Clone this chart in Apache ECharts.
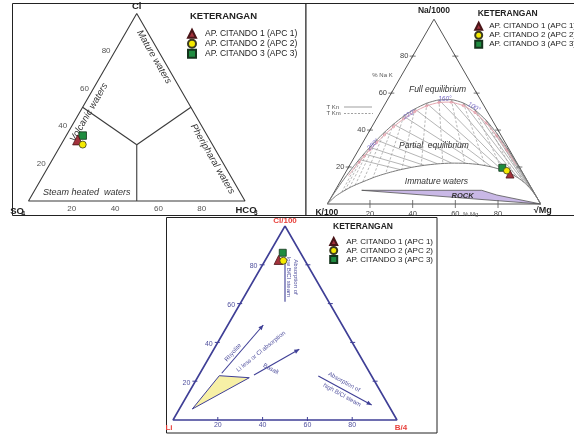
<!DOCTYPE html>
<html>
<head>
<meta charset="utf-8">
<title>Diagram ternary air panas Citando</title>
<script src="https://cdn.jsdelivr.net/npm/echarts@6.0.0/dist/echarts.min.js"></script>
<style>
  html, body { margin: 0; padding: 0; background: #fff; }
  #chart { width: 574px; height: 434px; }
</style>
</head>
<body>
<div id="chart"></div>
<script>
// ---------------- sample compositions (ternary percentages) ----------------
const sampleNames = ['AP. CITANDO 1 (APC 1)', 'AP. CITANDO 2 (APC 2)', 'AP. CITANDO 3 (APC 3)'];

// Cl - SO4 - HCO3  (top: Cl, right: HCO3, left: SO4)
const anionCl   = [32.6, 30.1, 34.9];
const anionHCO3 = [6.4, 10.0, 7.6];

// Na/1000 - K/100 - sqrt(Mg)  (top: Na, right: Mg, left: K)
const cationNa = [16.2, 18.0, 19.6];
const cationMg = [77.5, 75.1, 72.2];

// Cl/100 - Li - B/4  (top: Cl, right: B, left: Li)
const clbCl = [82.5, 82.1, 86.2];
const clbB  = [5.9, 8.2, 5.9];

const tickValues = [20, 40, 60, 80];

// Na-K-Mg full equilibrium line, by temperature (deg C): [Na, Mg] %
const eqTemps = [700, 500, 400, 380, 360, 340, 320, 300, 280, 260, 240, 220, 200, 180, 160, 140, 120, 100, 80, 60, 40, 20, 0];
const eqNa = [4.55, 9.98, 16.86, 18.93, 21.32, 24.05, 27.17, 30.69, 34.59, 38.80, 43.19, 47.50, 51.42, 54.51, 56.33, 56.46, 54.65, 50.86, 45.26, 38.28, 30.50, 22.67, 15.50];
const eqMg = [0.18, 0.64, 1.54, 1.88, 2.32, 2.89, 3.62, 4.56, 5.79, 7.38, 9.42, 12.02, 15.28, 19.31, 24.15, 29.86, 36.42, 43.78, 51.81, 60.28, 68.88, 77.10, 84.40];

// boundary of immature waters: [Na, Mg] %
const immNa = [4.47, 9.38, 14.56, 15.88, 17.23, 18.57, 19.84, 20.93, 21.72, 22.12, 22.00, 21.31, 20.05, 18.32, 16.22, 13.91, 11.55, 9.27, 7.17, 5.32, 3.78];
const immMg = [1.93, 6.69, 14.92, 17.72, 21.06, 25.02, 29.64, 34.92, 40.82, 47.20, 53.87, 60.54, 66.95, 72.88, 78.16, 82.72, 86.57, 89.76, 92.37, 94.47, 96.15];

const isoTemps = [340, 320, 300, 280, 260, 240, 220, 200, 180, 160, 140, 120, 100, 80, 60, 40];
const tempLabelTemps = [280, 220, 160, 100];

// rock dissolution field: [Na, Mg] %
const rockField = [[7.41, 12.41], [7.41, 68.65], [4.87, 76.95], [0, 100]];

// Cl-SO4-HCO3 field boundaries: [Cl, HCO3] %
const anionFieldLines = [
  [[50, 0], [30, 35]],
  [[30, 35], [50, 50]],
  [[30, 35], [0, 50]]
];

// Cl-Li-B features: [Cl, B] %
const clbYellowField = [[22.84, 9.25], [21.8, 23.16], [5.67, 5.78]];
const clbArrows = [
  { from: [24.1, 9.7],   to: [48.97, 15.83], head: true },
  { from: [23.2, 24.56], to: [36.45, 38.16], head: true },
  { from: [22.68, 53.53], to: [7.74, 84.83], head: true },
  { from: [82.48, 8.76], to: [60.98, 19.51], head: false }
];

// ---------------- helpers ----------------
const H = Math.sqrt(3) / 2;
const tern = (top, right) => [right + top / 2, top * H];
const FF = '"Liberation Sans", Arial, Helvetica, sans-serif';
const font = (size, style) => (style ? style + ' ' : '') + size + 'px ' + FF;

const series = [];
const base = (gi) => ({ xAxisIndex: gi, yAxisIndex: gi, silent: true, animation: false, clip: false });

function addLine(gi, pts, lineStyle, extra) {
  series.push(Object.assign(base(gi), {
    type: 'line', data: pts, symbol: 'none', showSymbol: false,
    lineStyle: lineStyle, z: 3, emphasis: { disabled: true }
  }, extra || {}));
}

function addTexts(gi, items, z) {
  series.push(Object.assign(base(gi), {
    type: 'custom', z: z || 6,
    data: items.map((it, i) => { const c = tern(it.at[0], it.at[1]); return [c[0], c[1], i]; }),
    renderItem: (params, api) => {
      const it = items[api.value(2)];
      const p = api.coord([api.value(0), api.value(1)]);
      return {
        type: 'text', x: p[0] + (it.dx || 0), y: p[1] + (it.dy || 0),
        rotation: (it.rot || 0) * Math.PI / 180,
        style: { text: it.text, font: it.font, fill: it.color, align: it.align || 'center', verticalAlign: 'middle' }
      };
    }
  }));
}

function addTicks(gi, ticks, stroke, lineWidth) {
  series.push(Object.assign(base(gi), {
    type: 'custom', z: 4,
    data: ticks.map((t, i) => { const c = tern(t.at[0], t.at[1]); return [c[0], c[1], i]; }),
    renderItem: (params, api) => {
      const t = ticks[api.value(2)];
      const p = api.coord([api.value(0), api.value(1)]);
      return { type: 'line', shape: { x1: p[0] + t.x1, y1: p[1] + t.y1, x2: p[0] + t.x2, y2: p[1] + t.y2 },
               style: { stroke: stroke, lineWidth: lineWidth } };
    }
  }));
}

function addArrows(gi, arrows, color) {
  series.push(Object.assign(base(gi), {
    type: 'custom', z: 5,
    data: arrows.map((a, i) => { const s = tern(a.from[0], a.from[1]); const e = tern(a.to[0], a.to[1]); return [s[0], s[1], e[0], e[1], i]; }),
    renderItem: (params, api) => {
      const a = arrows[api.value(4)];
      const s = api.coord([api.value(0), api.value(1)]);
      const e = api.coord([api.value(2), api.value(3)]);
      const children = [{ type: 'line', shape: { x1: s[0], y1: s[1], x2: e[0], y2: e[1] }, style: { stroke: color, lineWidth: 1.1 } }];
      if (a.head) {
        const dx = e[0] - s[0], dy = e[1] - s[1], L = Math.hypot(dx, dy);
        const ux = dx / L, uy = dy / L, hl = 5, hw = 2.2;
        children.push({ type: 'polygon', shape: { points: [
          [e[0], e[1]],
          [e[0] - ux * hl - uy * hw, e[1] - uy * hl + ux * hw],
          [e[0] - ux * hl + uy * hw, e[1] - uy * hl - ux * hw]
        ] }, style: { fill: color } });
      }
      return { type: 'group', children: children };
    }
  }));
}

function addPolygon(gi, pts, style, z) {
  const c0 = tern(pts[0][0], pts[0][1]);
  series.push(Object.assign(base(gi), {
    type: 'custom', z: z || 3,
    data: [[c0[0], c0[1]]],
    renderItem: (params, api) => ({
      type: 'polygon',
      shape: { points: pts.map(p => api.coord(tern(p[0], p[1]))) },
      style: style
    })
  }));
}

function segHit(p, q, a, b) {
  const rx = q[0] - p[0], ry = q[1] - p[1], sx = b[0] - a[0], sy = b[1] - a[1];
  const den = rx * sy - ry * sx;
  if (Math.abs(den) < 1e-12) return null;
  const apx = a[0] - p[0], apy = a[1] - p[1];
  const t = (apx * sy - apy * sx) / den;
  const u = (apx * ry - apy * rx) / den;
  return (t > 1e-6 && t <= 1 + 1e-9 && u >= -1e-9 && u <= 1 + 1e-9) ? t : null;
}
function clipToCurve(p, q, curve) {
  let best = null;
  for (let i = 0; i < curve.length - 1; i++) {
    const t = segHit(p, q, curve[i], curve[i + 1]);
    if (t !== null && (best === null || t < best)) best = t;
  }
  if (best === null) return q;
  return [p[0] + (q[0] - p[0]) * best, p[1] + (q[1] - p[1]) * best];
}

const triangle = [tern(100, 0), tern(0, 0), tern(0, 100), tern(100, 0)];

// ---------------- panel 1 : Cl - SO4 - HCO3 ----------------
addLine(0, triangle, { color: '#3a3a3a', width: 1.1 });
anionFieldLines.forEach(seg => addLine(0, seg.map(p => tern(p[0], p[1])), { color: '#3a3a3a', width: 1.1 }));

const p1c = '#333';
const p1Texts = [
  { at: [100, 0], dy: -7, text: 'Cl', font: font(9.5, 'bold'), color: '#222' },
  { at: [0, 0], dx: -11.5, dy: 10, text: 'SO', font: font(9.5, 'bold'), color: '#222' },
  { at: [0, 0], dx: -5.3, dy: 12.8, text: '4', font: font(6.5, 'bold'), color: '#222' },
  { at: [0, 100], dx: 1, dy: 9, text: 'HCO', font: font(9.5, 'bold'), color: '#222' },
  { at: [0, 100], dx: 10.8, dy: 11.8, text: '3', font: font(6.5, 'bold'), color: '#222' },
  { at: [76.8, 19.57], rot: -60, text: 'Mature waters', font: font(9.5, 'italic'), color: p1c },
  { at: [47.2, 4.34], rot: 60, text: 'Volcanic waters', font: font(9.5, 'italic'), color: p1c },
  { at: [22.4, 73.8], rot: -60, text: 'Pheripharal waters', font: font(9.5, 'italic'), color: p1c },
  { at: [4.54, 24.6], text: 'Steam heated  waters', font: font(9, 'italic'), color: p1c }
];
tickValues.forEach(v => {
  p1Texts.push({ at: [v, 0], dx: -9, dy: 0, text: String(v), font: font(8), color: '#555' });
  p1Texts.push({ at: [0, v], dy: 7.5, text: String(v), font: font(8), color: '#555' });
});
addTexts(0, p1Texts);

// ---------------- panel 2 : Na - K - Mg ----------------
const eqPts = [tern(0, 0)].concat(eqNa.map((na, i) => tern(na, eqMg[i])), [tern(0, 100)]);
const immPts = [tern(0, 0)].concat(immNa.map((na, i) => tern(na, immMg[i])), [tern(0, 100)]);
const apexNa = tern(100, 0), cornerMg = tern(0, 100);

addPolygon(1, rockField, { fill: '#c9b8e6', stroke: '#555', lineWidth: 0.8 }, 3);
addLine(1, triangle, { color: '#555', width: 1 }, { z: 4 });

isoTemps.forEach(T => {
  const i = eqTemps.indexOf(T);
  const P = tern(eqNa[i], eqMg[i]);
  const endSolid = clipToCurve(P, cornerMg, immPts);
  addLine(1, [P, endSolid], { color: '#9c9c9c', width: 0.75 });
  const far = [P[0] + 2 * (P[0] - apexNa[0]), P[1] + 2 * (P[1] - apexNa[1])];
  const endDash = clipToCurve(P, far, immPts);
  addLine(1, [P, endDash], { color: '#a0a0a0', width: 0.75, type: [2.5, 1.8] });
});
addLine(1, eqPts, { color: '#7a7a7a', width: 1 }, { smooth: 0.2, z: 4 });
addLine(1, immPts, { color: '#7a7a7a', width: 1 }, { smooth: 0.2, z: 4 });

// pink marker line just inside the full equilibrium line
const pinkIdx = eqTemps.map((t, i) => i).filter(i => eqTemps[i] <= 400 && eqTemps[i] >= 20);
series.push(Object.assign(base(1), {
  type: 'custom', z: 4,
  data: [[eqPts[1][0], eqPts[1][1]]],
  renderItem: (params, api) => {
    const pts = pinkIdx.map(i => { const p = api.coord(tern(eqNa[i], eqMg[i])); return [p[0], p[1] + 2.6]; });
    const marks = isoTemps.map(T => {
      const i = eqTemps.indexOf(T);
      const p = api.coord(tern(eqNa[i], eqMg[i]));
      return { type: 'circle', shape: { cx: p[0], cy: p[1] + 2.6, r: 1.1 }, style: { fill: null, stroke: '#e08a98', lineWidth: 0.7 } };
    });
    return { type: 'group', children: [
      { type: 'polyline', shape: { points: pts, smooth: 0.2 }, style: { fill: null, stroke: '#e6a8b2', lineWidth: 1 } }
    ].concat(marks) };
  }
}));

const tempOffsets = { 280: { dx: -3.5, dy: 4.5, rot: 45 }, 220: { dx: 6, dy: -2, rot: 30 }, 160: { dx: 6, dy: -1, rot: 0 }, 100: { dx: -1, dy: -3, rot: -30 } };
const p2Texts = [
  { at: [100, 0], dy: -8.5, text: 'Na/1000', font: font(8.5, 'bold'), color: '#222' },
  { at: [0, 0], dx: -0.5, dy: 9, text: 'K/100', font: font(8.5, 'bold'), color: '#222' },
  { at: [0, 100], dx: 2, dy: 7, text: '\u221AMg', font: font(9, 'bold'), color: '#222' },
  { at: [0, 67.2], dy: 10, text: '% Mg', font: font(6), color: '#555' },
  { at: [70, 0], dx: -19.5, dy: 0.5, text: '% Na K', font: font(6), color: '#555' },
  { at: [61.7, 20.8], text: 'Full equilibrium', font: font(8.5, 'italic'), color: '#333' },
  { at: [31.55, 34.2], text: 'Partial  equilibrium', font: font(8.5, 'italic'), color: '#333' },
  { at: [12.07, 45.1], text: 'Immature waters', font: font(8.5, 'italic'), color: '#333' },
  { at: [4.33, 61.2], text: 'ROCK', font: font(7.5, 'italic bold'), color: '#333' }
];
tempLabelTemps.forEach(T => {
  const i = eqTemps.indexOf(T), o = tempOffsets[T];
  p2Texts.push({ at: [eqNa[i], eqMg[i]], dx: o.dx, dy: o.dy, rot: o.rot, text: T + '\u00B0', font: font(6.5, 'italic'), color: '#7a6cc4' });
});
tickValues.forEach(v => {
  p2Texts.push({ at: [v, 0], dx: -8.5, text: String(v), font: font(7.5), color: '#444' });
  p2Texts.push({ at: [0, v], dy: 9.5, text: String(v), font: font(7.5), color: '#444' });
});
addTexts(1, p2Texts);
const p2Ticks = [];
tickValues.forEach(v => {
  p2Ticks.push({ at: [v, 0], x1: -3, y1: 0, x2: 3, y2: 0 });
  p2Ticks.push({ at: [v, 0], x1: -1, y1: 2, x2: 1, y2: -2 });
  p2Ticks.push({ at: [v, 100 - v], x1: -3, y1: 0, x2: 3, y2: 0 });
  p2Ticks.push({ at: [v, 100 - v], x1: -1, y1: -2, x2: 1, y2: 2 });
  p2Ticks.push({ at: [0, v], x1: 0, y1: -4, x2: 0, y2: 4 });
});
addTicks(1, p2Ticks, '#555', 0.8);

// ---------------- panel 3 : Cl - Li - B ----------------
const navy = '#3f3f96', navyText = '#50509e', red = '#e8413c';
addPolygon(2, clbYellowField, { fill: '#f7f0a6', stroke: navy, lineWidth: 1 }, 3);
addLine(2, triangle, { color: navy, width: 1.6 }, { z: 4 });
addArrows(2, clbArrows, navy);

const p3Texts = [
  { at: [100, 0], dy: -5.3, text: 'Cl/100', font: font(8, 'bold'), color: red },
  { at: [0, 0], dx: -4, dy: 8, text: 'Li', font: font(8, 'bold'), color: red },
  { at: [0, 100], dx: 4, dy: 8, text: 'B/4', font: font(8, 'bold'), color: red },
  { at: [34.79, 9.39], rot: 48, text: 'Rhyolite', font: font(6), color: navyText },
  { at: [35.31, 21.63], rot: 39, text: 'Li less or Cl absorption', font: font(6), color: navyText },
  { at: [26.29, 30.6], rot: -28, text: 'Basalt', font: font(6), color: navyText },
  { at: [19.59, 66.55], rot: -29, text: 'Absorption of', font: font(6), color: navyText },
  { at: [12.89, 69.0], rot: -29, text: 'high B/Cl steam', font: font(6), color: navyText },
  { at: [73.72, 18.05], rot: -90, text: 'Absorption of', font: font(6), color: navyText },
  { at: [73.72, 14.93], rot: -90, text: 'low B/Cl steam', font: font(6), color: navyText }
];
tickValues.forEach(v => {
  p3Texts.push({ at: [v, 0], dx: -9, dy: 1.7, text: String(v), font: font(7), color: navyText });
  p3Texts.push({ at: [0, v], dy: 5.5, text: String(v), font: font(7), color: navyText });
});
addTexts(2, p3Texts);
const p3Ticks = [];
tickValues.forEach(v => {
  p3Ticks.push({ at: [v, 0], x1: -3, y1: 0, x2: 2, y2: 0 });
  p3Ticks.push({ at: [v, 100 - v], x1: -2, y1: 0, x2: 3, y2: 0 });
  p3Ticks.push({ at: [0, v], x1: 0, y1: -3, x2: 0, y2: 1 });
});
addTicks(2, p3Ticks, navy, 1);

// ---------------- samples ----------------
const markers = [
  { symbol: 'triangle', color: '#a3323c', border: '#4a1518' },
  { symbol: 'circle', color: '#f5ea00', border: '#3b3b22' },
  { symbol: 'rect', color: '#1f8c40', border: '#15331c' }
];
const panelValues = [[anionCl, anionHCO3], [cationNa, cationMg], [clbCl, clbB]];
const panelSizes = [[10, 7, 7.5], [8, 6.5, 7], [9, 7, 7]];
[0, 1, 2].forEach(gi => {
  [2, 0, 1].forEach((k, order) => {
    series.push(Object.assign(base(gi), {
      type: 'scatter', name: sampleNames[k], z: 10 + order,
      data: [tern(panelValues[gi][0][k], panelValues[gi][1][k])],
      symbol: markers[k].symbol, symbolSize: panelSizes[gi][k],
      itemStyle: { color: markers[k].color, borderColor: markers[k].border, borderWidth: 0.8, opacity: 1 },
      emphasis: { disabled: true }
    }));
  });
});

// ---------------- layout ----------------
const grids = [
  { left: 28.5, top: 201 - 216.5 * H, width: 216.5, height: 216.5 * H },
  { left: 327.3, top: 204 - 213.4 * H, width: 213.4, height: 213.4 * H },
  { left: 173, top: 420 - 224 * H, width: 224, height: 224 * H }
];

const legendBase = (left, top, size, textPad, rowH, fs) => ({
  data: sampleNames, orient: 'vertical', left: left, top: top, padding: 0,
  itemWidth: size, itemHeight: size, itemGap: 0, selectedMode: false,
  textStyle: { fontFamily: FF, fontSize: fs, color: '#222', padding: [0, 0, 0, textPad], lineHeight: rowH }
});
const titleBase = (left, top, fs) => ({
  text: 'KETERANGAN', left: left, top: top, padding: 0,
  textStyle: { fontFamily: FF, fontSize: fs, fontWeight: 'bold', color: '#222', lineHeight: fs }
});

const option = {
  animation: false,
  backgroundColor: '#fff',
  title: [titleBase(190, 12, 9.5), titleBase(477.7, 9.8, 8.5), titleBase(333, 222.5, 8.5)],
  legend: [
    legendBase(187, 28.7, 8, 4, 9.2, 8.5),
    legendBase(474.2, 21.7, 7, 2, 8, 8),
    legendBase(329.2, 237, 7, 4, 7.9, 8)
  ],
  grid: grids.map(g => Object.assign({ show: false }, g)),
  xAxis: grids.map((g, i) => ({ type: 'value', gridIndex: i, min: 0, max: 100, show: false })),
  yAxis: grids.map((g, i) => ({ type: 'value', gridIndex: i, min: 0, max: 100 * H, show: false })),
  graphic: { elements: [
    { type: 'rect', z: 0, shape: { x: 12.5, y: 3.5, width: 293.5, height: 212 }, style: { fill: '#fff', stroke: '#222', lineWidth: 1 } },
    { type: 'rect', z: 0, shape: { x: 306, y: 3.5, width: 280, height: 212 }, style: { fill: '#fff', stroke: '#222', lineWidth: 1 } },
    { type: 'rect', z: 1, shape: { x: 166.5, y: 217.5, width: 270.5, height: 215.5 }, style: { fill: '#fff', stroke: '#222', lineWidth: 1 } },
    { type: 'text', z: 1, x: 326.5, y: 107, style: { text: 'T Kn', font: font(6), fill: '#555', verticalAlign: 'middle', textVerticalAlign: 'middle' } },
    { type: 'line', z: 1, shape: { x1: 344, y1: 107, x2: 372, y2: 107 }, style: { stroke: '#777', lineWidth: 0.7 } },
    { type: 'text', z: 1, x: 326.5, y: 113.5, style: { text: 'T Km', font: font(6), fill: '#555', verticalAlign: 'middle', textVerticalAlign: 'middle' } },
    { type: 'line', z: 1, shape: { x1: 344, y1: 113.5, x2: 373, y2: 113.5 }, style: { stroke: '#777', lineWidth: 0.7, lineDash: [2, 1.5] } }
  ] },
  tooltip: { show: false },
  series: series
};

const chart = echarts.init(document.getElementById('chart'), null, { renderer: 'canvas' });
chart.setOption(option);
</script>
</body>
</html>
